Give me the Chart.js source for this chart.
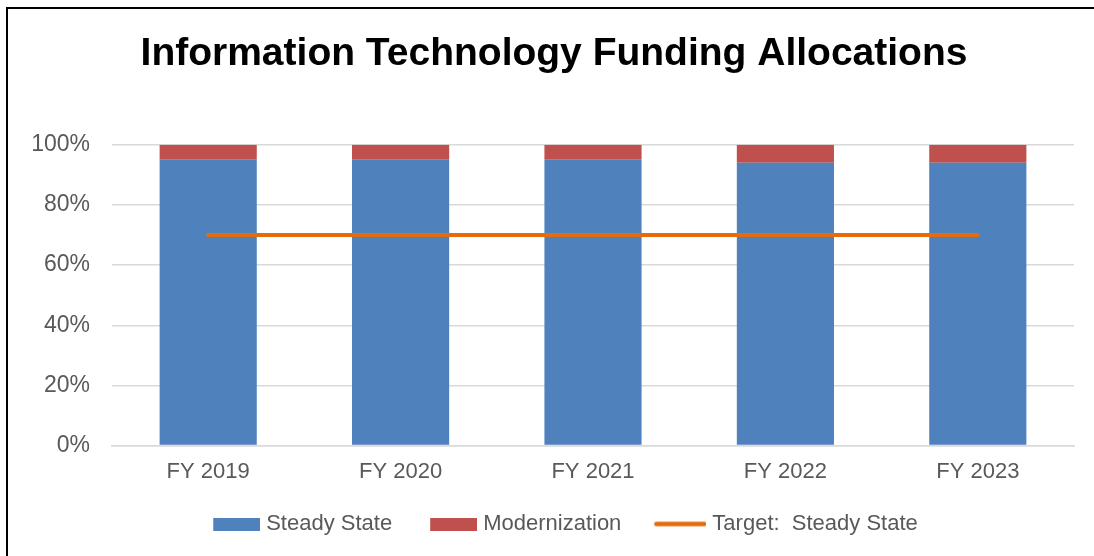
<!DOCTYPE html>
<html>
<head>
<meta charset="utf-8">
<script src="https://cdn.jsdelivr.net/npm/chart.js@4"></script>
<style>
  html, body { margin: 0; padding: 0; background: #fff; overflow: hidden; }
  #wrap { position: absolute; left: 0; top: 0; width: 1094px; height: 556px; }
  #frame { position: absolute; left: 6px; top: 7px; width: 1100px; height: 560px;
           border-left: 2px solid #000; border-top: 2px solid #000; box-sizing: border-box; }
  canvas { position: absolute; left: 0; top: 0; }
</style>
</head>
<body>
<div id="wrap">
  <div id="frame"></div>
  <canvas id="c" width="1094" height="556"></canvas>
</div>
<script>
const categories = ['FY 2019', 'FY 2020', 'FY 2021', 'FY 2022', 'FY 2023'];
const steadyState = [0.95, 0.95, 0.95, 0.94, 0.94];
const modernization = [0.05, 0.05, 0.05, 0.06, 0.06];
const targetSteadyState = [0.70, 0.70, 0.70, 0.70, 0.70];
const yTicks = [0, 0.2, 0.4, 0.6, 0.8, 1.0];

const BLUE = '#4F81BD', RED = '#C0504D', ORANGE = '#E46C0A';
const FONT = "'Liberation Sans', Arial, sans-serif";

// legend swatch images: canvas 75 wide, swatch drawn at its right end
function swatch(color, line) {
  const W = 75, H = 13;
  const c = document.createElement('canvas');
  c.width = W; c.height = H;
  const x = c.getContext('2d');
  if (line) {
    x.strokeStyle = color; x.lineWidth = 4.5; x.lineCap = 'round';
    x.beginPath(); x.moveTo(W - 52 + 2, H / 2); x.lineTo(W - 2, H / 2); x.stroke();
  } else {
    x.fillStyle = color; x.fillRect(W - 47, 0, 47, H);
  }
  return c;
}
const swatches = [swatch(BLUE), swatch(RED), swatch(ORANGE, true)];

new Chart(document.getElementById('c'), {
  data: {
    labels: categories,
    datasets: [
      { type: 'line', label: 'Target:  Steady State', data: targetSteadyState,
        borderColor: ORANGE, borderWidth: 4, pointRadius: 0, borderCapStyle: 'round',
        fill: false, order: 0 },
      { type: 'bar', label: 'Steady State', data: steadyState, backgroundColor: BLUE,
        categoryPercentage: 1.0, barPercentage: 0.505, order: 1 },
      { type: 'bar', label: 'Modernization', data: modernization, backgroundColor: RED,
        categoryPercentage: 1.0, barPercentage: 0.505, order: 1 }
    ]
  },
  options: {
    responsive: false,
    animation: false,
    devicePixelRatio: 1,
    layout: { padding: { left: 14, right: 0, top: 0, bottom: 11 } },
    plugins: {
      title: {
        display: true, text: 'Information Technology Funding Allocations',
        color: '#000', font: { family: FONT, size: 39, weight: 'bold' },
        padding: { top: 31, bottom: 67 }
      },
      legend: {
        position: 'bottom',
        labels: {
          color: '#595959', font: { family: FONT, size: 22 },
          usePointStyle: true, pointStyleWidth: 65, padding: 15,
          generateLabels: (chart) => {
            const order = [1, 2, 0];
            return order.map((di, k) => ({
              text: chart.data.datasets[di].label,
              datasetIndex: di,
              pointStyle: swatches[k],
              fillStyle: 'transparent', strokeStyle: 'transparent', lineWidth: 0,
              fontColor: '#595959', hidden: false
            }));
          }
        }
      },
      tooltip: { enabled: false }
    },
    scales: {
      x: {
        stacked: true,
        grid: { display: false, drawTicks: false },
        border: { display: true, color: '#D9D9D9', width: 1.5 },
        ticks: { color: '#595959', font: { family: FONT, size: 22 }, padding: 13 }
      },
      y: {
        stacked: true, min: 0, max: 1,
        afterBuildTicks: (s) => { s.ticks = yTicks.map(v => ({ value: v })); },
        afterFit: (s) => { s.width = 98; },
        grid: { color: '#D9D9D9', lineWidth: 1.5, drawTicks: false },
        border: { display: false },
        ticks: { color: '#595959', font: { family: FONT, size: 23 }, padding: 22,
                 callback: (v) => Math.round(v * 100) + '%' }
      },
      ySpacer: {
        type: 'linear', position: 'right', min: 0, max: 1,
        afterFit: (s) => { s.width = 20; },
        grid: { display: false, drawTicks: false },
        border: { display: false },
        ticks: { display: false }
      }
    }
  }
});
</script>
</body>
</html>
